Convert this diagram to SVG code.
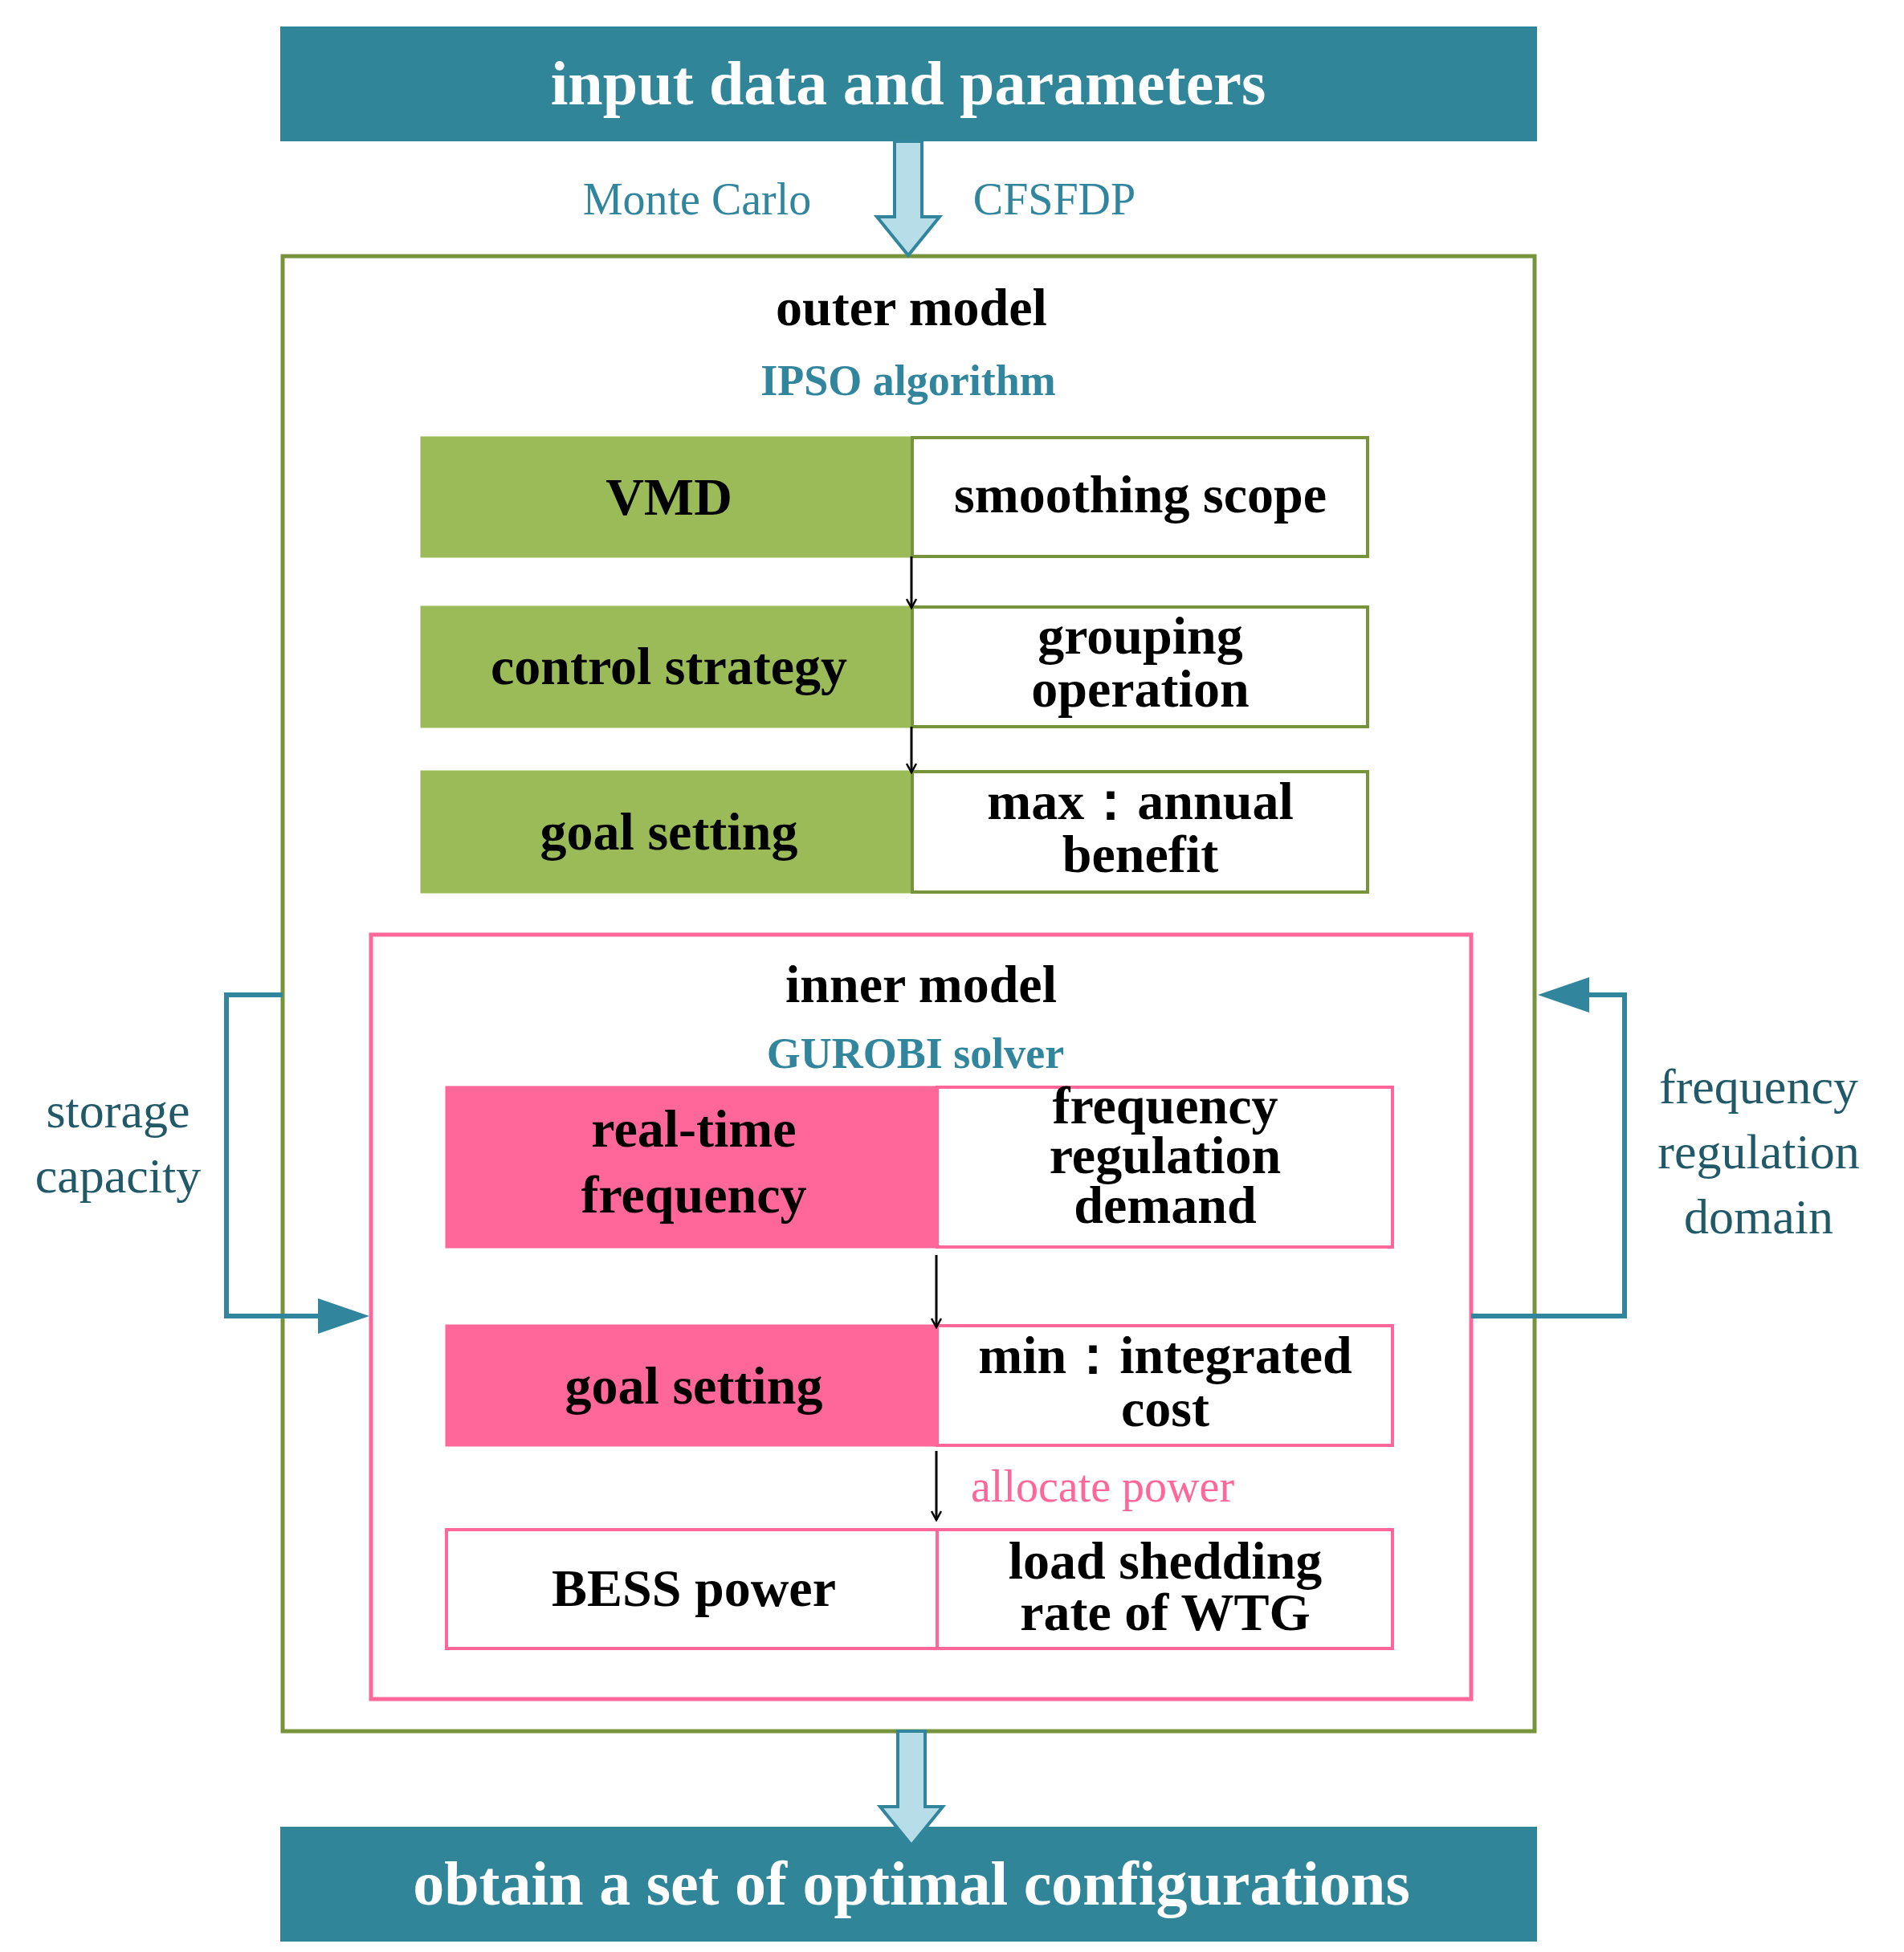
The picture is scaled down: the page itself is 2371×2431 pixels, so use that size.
<svg xmlns="http://www.w3.org/2000/svg" width="2371" height="2431" viewBox="0 0 2371 2431">
<style>
text{font-family:"Liberation Serif","DejaVu Serif",serif;text-anchor:middle}
.b{font-weight:bold;font-size:66px;fill:#000}
.hd{font-weight:bold;font-size:78px;fill:#fff}
.t{font-size:56px;fill:#31859C}
.tb{font-weight:bold;font-size:54px;fill:#31859C}
.side{font-size:62px;fill:#215968}
.g{fill:#9BBB59;stroke:#9BBB59;stroke-width:3}
.gw{fill:#fff;stroke:#77933C;stroke-width:4}
.p{fill:#FF6699;stroke:#FF6699;stroke-width:3}
.pw{fill:#fff;stroke:#FF6699;stroke-width:4}
.blk{stroke:#000;stroke-width:3;fill:none}
.loop{stroke:#31859C;stroke-width:6;fill:none}
.fat{fill:#B7DEE8;stroke:#31859C;stroke-width:4}
</style>
<defs>
<marker id="ah" markerWidth="14" markerHeight="14" refX="12" refY="7" orient="auto" markerUnits="userSpaceOnUse" viewBox="0 0 14 14"><path d="M1,1 L12,7 L1,13" fill="none" stroke="#000" stroke-width="2.5"/></marker>
</defs>
<rect width="2371" height="2431" fill="#fff"/>
<g id="input"><rect x="349" y="33" width="1565" height="143" fill="#318599"/><text class="hd" x="1131" y="130">input data and parameters</text></g>
<g id="outer"><rect x="352" y="319" width="1559" height="1837" fill="#fff" stroke="#77933C" stroke-width="5"/>
<text class="b" x="1135" y="405">outer model</text><text class="tb" x="1131" y="492">IPSO algorithm</text></g>
<g id="vmd"><rect class="g" x="525" y="545" width="611" height="148"/><rect class="gw" x="1136" y="545" width="567" height="148"/><text class="b" x="833" y="641">VMD</text><text class="b" x="1420" y="638">smoothing scope</text></g>
<g id="control"><rect class="g" x="525" y="756" width="611" height="149"/><rect class="gw" x="1136" y="756" width="567" height="149"/><text class="b" x="833" y="852">control strategy</text><text class="b" x="1420" y="814">grouping</text><text class="b" x="1420" y="880">operation</text></g>
<g id="goal1"><rect class="g" x="525" y="961" width="611" height="150"/><rect class="gw" x="1136" y="961" width="567" height="150"/><text class="b" x="833" y="1058">goal setting</text><text class="b" x="1420" y="1020">max：annual</text><text class="b" x="1420" y="1086">benefit</text></g>
<g id="inner"><rect x="462" y="1164" width="1370" height="952" fill="#fff" stroke="#FF6699" stroke-width="5"/>
<text class="b" x="1147" y="1248">inner model</text><text class="tb" x="1140" y="1330">GUROBI solver</text></g>
<g id="realtime"><rect class="p" x="556" y="1354" width="611" height="199"/><rect class="pw" x="1167" y="1354" width="567" height="199"/><text class="b" x="864" y="1428">real-time</text><text class="b" x="864" y="1510">frequency</text><text class="b" x="1451" y="1399">frequency</text><text class="b" x="1451" y="1461">regulation</text><text class="b" x="1451" y="1523">demand</text></g>
<g id="goal2"><rect class="p" x="556" y="1651" width="611" height="149"/><rect class="pw" x="1167" y="1651" width="567" height="149"/><text class="b" x="864" y="1748">goal setting</text><text class="b" x="1451" y="1710">min：integrated</text><text class="b" x="1451" y="1776">cost</text></g>
<g id="bess"><rect class="pw" x="556" y="1905" width="611" height="148"/><rect class="pw" x="1167" y="1905" width="567" height="148"/><text class="b" x="864" y="2000">BESS power</text><text class="b" x="1451" y="1966">load shedding</text><text class="b" x="1451" y="2030">rate of WTG</text></g>
<g id="output"><rect x="349" y="2275" width="1565" height="143" fill="#318599"/><text class="hd" x="1135" y="2372">obtain a set of optimal configurations</text></g>
<g id="connectors">
<path class="fat" d="M1114,176 H1148 V270 H1170 L1131,318 L1092,270 H1114 Z"/>
<path class="fat" d="M1118,2156 H1152 V2250 H1174 L1135,2298 L1096,2250 H1118 Z"/>
<line class="blk" x1="1135" y1="693" x2="1135" y2="757" marker-end="url(#ah)"/>
<line class="blk" x1="1135" y1="905" x2="1135" y2="962" marker-end="url(#ah)"/>
<line class="blk" x1="1166" y1="1563" x2="1166" y2="1653" marker-end="url(#ah)"/>
<line class="blk" x1="1166" y1="1807" x2="1166" y2="1893" marker-end="url(#ah)"/>
<path class="loop" d="M352,1239 H282 V1639 H400"/>
<path d="M396,1617 L460,1639 L396,1661 Z" fill="#31859C"/>
<path class="loop" d="M1832,1639 H2023 V1239 H1975"/>
<path d="M1979,1217 L1915,1239 L1979,1261 Z" fill="#31859C"/>
<text class="t" x="868" y="267">Monte Carlo</text>
<text class="t" x="1313" y="267">CFSFDP</text>
<text class="t" x="1209" y="1870" style="text-anchor:start;fill:#FF6699">allocate power</text>
<text class="side" x="147" y="1404">storage</text><text class="side" x="147" y="1485">capacity</text>
<text class="side" x="2190" y="1374">frequency</text><text class="side" x="2190" y="1455">regulation</text><text class="side" x="2190" y="1536">domain</text>
</g>
</svg>
